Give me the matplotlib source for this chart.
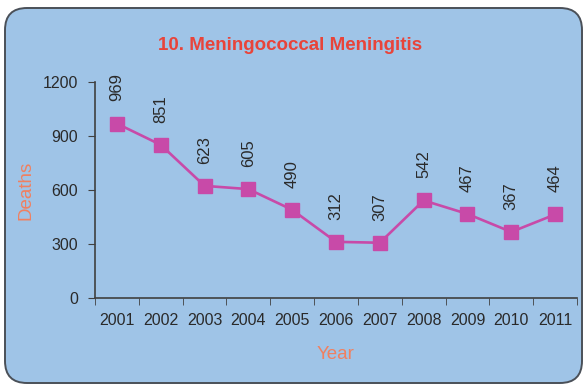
import matplotlib
matplotlib.use("Agg")
import matplotlib.pyplot as plt
from matplotlib.patches import FancyBboxPatch
import numpy as np

years = ["2001", "2002", "2003", "2004", "2005", "2006", "2007", "2008", "2009", "2010", "2011"]
deaths = [969, 851, 623, 605, 490, 312, 307, 542, 467, 367, 464]
yticks = [0, 300, 600, 900, 1200]

plt.rcParams['font.family'] = ['Liberation Sans', 'DejaVu Sans']

fig = plt.figure(figsize=(5.84, 3.85), dpi=100)
fig.patch.set_facecolor('white')

# rounded panel behind the chart (inch coordinates)
panel = FancyBboxPatch((0.05, 0.02), 5.77, 3.75,
                       boxstyle="round,pad=0,rounding_size=0.22",
                       transform=fig.dpi_scale_trans, facecolor='#9fc4e7',
                       edgecolor='#4a5058', linewidth=1.4, zorder=-5)
fig.patches.append(panel)

ax = fig.add_axes([95 / 584, 87 / 385, 482 / 584, 216 / 385], zorder=2)
ax.set_facecolor('none')

x = np.arange(len(years))
ax.plot(x, deaths, color='#c84aa8', linewidth=1.9, marker='s', markersize=9.5,
        markerfacecolor='#c84aa8', markeredgecolor='#c84aa8', clip_on=False)

for xi, v in zip(x, deaths):
    ax.annotate(str(v), (xi, v), xytext=(0, 16), textcoords='offset points',
                rotation=90, ha='center', va='bottom', fontsize=12, color='#2a2a2a',
                annotation_clip=False)

ax.set_xlim(-0.5, len(years) - 0.5)
ax.set_ylim(0, 1200)
ax.set_yticks(yticks)
ax.set_yticklabels([str(t) for t in yticks], fontsize=11.5, color='#2a2a2a')
ax.set_xticks(x)
ax.set_xticklabels(years, fontsize=11.5, color='#2a2a2a')
ax.tick_params(axis='x', length=0, pad=11)
ax.set_xticks(np.arange(-0.5, len(years)), minor=True)
ax.tick_params(axis='x', which='minor', length=5, direction='out', color='#404040')
ax.tick_params(axis='y', length=5, direction='out', color='#404040', pad=7)

for s in ['top', 'right']:
    ax.spines[s].set_visible(False)
for s in ['left', 'bottom']:
    ax.spines[s].set_color('#404040')
    ax.spines[s].set_linewidth(1.2)

ax.set_ylabel('Deaths', color='#f08060', fontsize=13.5, labelpad=6)
ax.set_xlabel('Year', color='#f08060', fontsize=13.5, labelpad=13)

fig.text(290 / 584, 1 - 46 / 385, '10. Meningococcal Meningitis', color='#e8443a',
         fontsize=13.5, fontweight='bold', ha='center', va='center')

fig.savefig('out.png', dpi=100)
